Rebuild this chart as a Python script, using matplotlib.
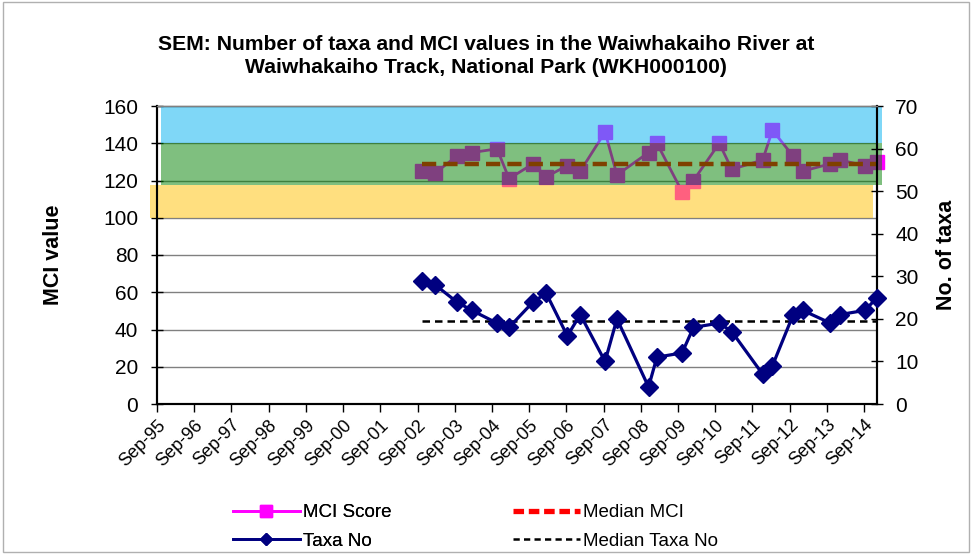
import matplotlib
matplotlib.use("Agg")
import matplotlib.pyplot as plt
import matplotlib.dates as mdates
import matplotlib.transforms as mtransforms
from matplotlib.patches import Rectangle
from matplotlib.lines import Line2D
import pandas as pd

plt.rcParams['font.family'] = ['Liberation Sans', 'DejaVu Sans']

# ---- data ----
sample_dates = ["2002-10-15", "2003-02-20", "2003-09-20", "2004-02-15", "2004-10-20",
                "2005-02-15", "2005-10-10", "2006-02-15", "2006-09-10", "2007-01-15",
                "2007-09-15", "2008-01-10", "2008-11-15", "2009-02-05", "2009-10-10",
                "2010-01-30", "2010-10-10", "2011-02-10", "2011-12-10", "2012-03-15",
                "2012-10-05", "2013-01-05", "2013-10-05", "2014-01-05", "2014-09-10",
                "2015-01-05"]
mci_score = [125, 124, 133, 135, 137, 121, 129, 122, 128, 125,
             146, 123, 135, 140, 114, 120, 140, 126, 131, 147,
             133, 125, 129, 131, 128, 130]
taxa_no = [29, 28, 24, 22, 19, 18, 24, 26, 16, 21,
           10, 20, 4, 11, 12, 18, 19, 17, 7, 9,
           21, 22, 19, 21, 22, 25]
median_mci = 129
median_taxa = 19.5
tick_years = list(range(1995, 2015))
title_text = ("SEM: Number of taxa and MCI values in the Waiwhakaiho River at\n"
              "Waiwhakaiho Track, National Park (WKH000100)")

dates = pd.to_datetime(sample_dates)
tick_dates = pd.to_datetime([f"{y}-09-01" for y in tick_years])

fig = plt.figure(figsize=(9.72, 5.54), dpi=100)
fig.patches.append(Rectangle((0.003, 0.003), 0.994, 0.994, transform=fig.transFigure,
                             fill=False, edgecolor="#b0b0b0", linewidth=1))

L, R, B, T = 157 / 972, 877 / 972, 1 - 404 / 554, 1 - 106 / 554
ax = fig.add_axes([L, B, R - L, T - B])
ax2 = ax.twinx()

ax.set_ylim(0, 160)
ax.set_yticks(range(0, 161, 20))
ax2.set_ylim(0, 70)
ax2.set_yticks(range(0, 71, 10))
ax.set_xlim(pd.Timestamp("1995-09-01"), dates[-1])

ax.set_axisbelow(True)
ax.yaxis.grid(True, color="#808080", linewidth=1, zorder=0.5)

# MCI line and median
ax.plot(dates, mci_score, color="#FF00FF", linewidth=2, marker="s", markersize=9.5,
        markeredgecolor="#FF00FF", zorder=2, clip_on=False)
ax.plot([dates[0], dates[-1]], [median_mci, median_mci], color="#FF0000",
        linewidth=3.2, dashes=(3.2, 1.6), zorder=2.1)

# condition bands (semi-transparent overlay)
bt = mtransforms.blended_transform_factory(ax.transAxes, ax.transData)
ax.add_patch(Rectangle((0.006, 140), 1.001, 20, transform=bt, facecolor="#00B0F0",
                       alpha=0.5, edgecolor="none", zorder=3, clip_on=False))
ax.add_patch(Rectangle((0.006, 117.5), 1.001, 22.5, transform=bt, facecolor="#008000",
                       alpha=0.5, edgecolor="none", zorder=3, clip_on=False))
ax.add_patch(Rectangle((-0.0097, 100), 1.004, 17.5, transform=bt, facecolor="#FFC000",
                       alpha=0.5, edgecolor="none", zorder=3, clip_on=False))

# taxa line and median
ax2.plot(dates, taxa_no, color="#000080", linewidth=2.3, marker="D", markersize=9.5,
         zorder=3, clip_on=False)
ax2.plot([dates[0], dates[-1]], [median_taxa, median_taxa], color="black",
         linewidth=1.8, dashes=(3, 2), zorder=2)

# axes styling
ax.set_xticks(tick_dates)
ax.xaxis.set_major_formatter(mdates.DateFormatter("%b-%y"))
for lab in ax.get_xticklabels():
    lab.set_rotation(45)
    lab.set_ha("right")
    lab.set_rotation_mode("anchor")
ax.tick_params(axis="x", direction="out", length=6, width=1, labelsize=13, pad=3)
ax.tick_params(axis="y", direction="inout", length=8, width=1, labelsize=15, pad=9.5)
ax2.tick_params(axis="y", direction="inout", length=8, width=1, labelsize=15, pad=9)
for a in (ax, ax2):
    for s in a.spines.values():
        s.set_linewidth(1.5)
    a.spines["top"].set_color("#808080")
    a.spines["top"].set_linewidth(1)

ax.set_ylabel("MCI value", fontsize=15.5, fontweight="bold", labelpad=28)
ax2.set_ylabel("No. of taxa", fontsize=15.5, fontweight="bold", labelpad=13)

fig.text(0.5, 1 - 56 / 554, title_text, ha="center", va="center", fontsize=15.2,
         fontweight="bold", linespacing=1.25)

h_mci = Line2D([], [], color="#FF00FF", linewidth=2, marker="s", markersize=9)
h_taxa = Line2D([], [], color="#000080", linewidth=2, marker="D", markersize=6)
h_mmci = Line2D([], [], color="#FF0000", linewidth=3.8, dashes=(2, 0.9))
h_mtaxa = Line2D([], [], color="black", linewidth=1.8, dashes=(2.5, 1.7))

leg_kw = dict(frameon=False, loc="center left", fontsize=13.5, handlelength=3.55,
              handletextpad=0.2, labelspacing=0.62, borderpad=0, borderaxespad=0)
leg1 = fig.legend([h_mci, h_taxa], ["MCI Score", "Taxa No"],
                  bbox_to_anchor=(233 / 972, 1 - 527 / 554), **leg_kw)
fig.add_artist(leg1)
fig.legend([h_mmci, h_mtaxa], ["Median MCI", "Median Taxa No"],
           bbox_to_anchor=(513 / 972, 1 - 527 / 554), **leg_kw)

fig.savefig("out.png", dpi=100)
